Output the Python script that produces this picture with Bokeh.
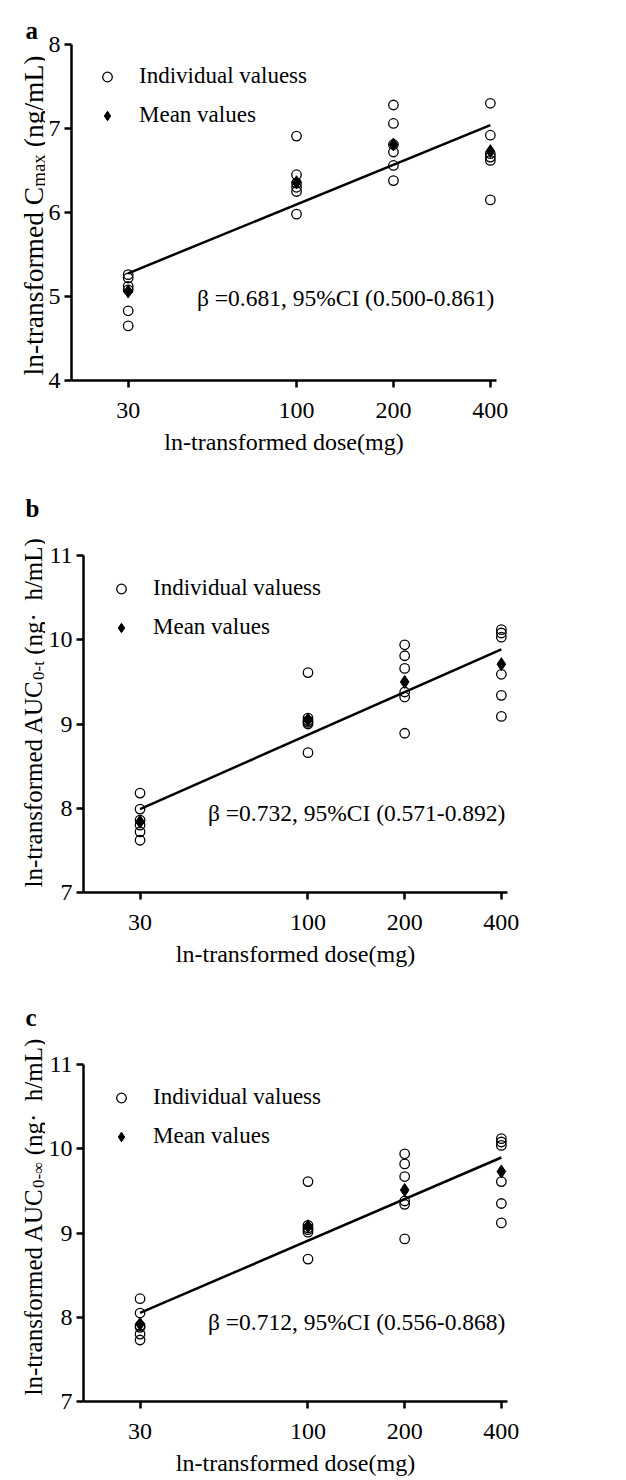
import math
from bokeh.plotting import figure
from bokeh.models import (Range1d, FixedTicker, NumeralTickFormatter, Label,
                          Legend, LegendItem)
from bokeh.layouts import column, row
from bokeh.embed import file_html
from bokeh.resources import INLINE

# ---------------- data ----------------
doses = [30, 100, 200, 400]

cmax_individual = [
    [5.26, 5.22, 5.12, 5.08, 4.83, 4.65],
    [6.91, 6.45, 6.35, 6.30, 6.25, 5.98],
    [7.28, 7.06, 6.81, 6.72, 6.56, 6.38],
    [7.30, 6.92, 6.70, 6.66, 6.62, 6.15],
]
cmax_mean = [5.06, 6.36, 6.81, 6.73]
cmax_beta = 0.681
cmax_ci = (0.500, 0.861)
cmax_intercept = 2.96

auct_individual = [
    [8.18, 7.99, 7.86, 7.80, 7.72, 7.62],
    [9.61, 9.07, 9.04, 9.02, 9.00, 8.66],
    [9.94, 9.81, 9.66, 9.38, 9.32, 8.89],
    [10.12, 10.08, 10.03, 9.59, 9.34, 9.09],
]
auct_mean = [7.84, 9.05, 9.50, 9.71]
auct_beta = 0.732
auct_ci = (0.571, 0.892)
auct_intercept = 5.50

aucinf_individual = [
    [8.22, 8.05, 7.90, 7.88, 7.80, 7.73],
    [9.61, 9.09, 9.06, 9.04, 9.01, 8.69],
    [9.94, 9.82, 9.67, 9.38, 9.34, 8.93],
    [10.12, 10.08, 10.04, 9.61, 9.35, 9.12],
]
aucinf_mean = [7.92, 9.08, 9.51, 9.73]
aucinf_beta = 0.712
aucinf_ci = (0.556, 0.868)
aucinf_intercept = 5.63

x_title = "ln-transformed dose(mg)"
legend_labels = ["Individual valuess", "Mean values"]

# ---------------- style / layout ----------------
FONT = "'Liberation Serif', 'Times New Roman', serif"
XLO, XHI = 20, 418
PPL = 140.5          # pixels per natural-log unit on the x axis
W_FIG = 620
STRIP_W = 45
ADV = {' ': 250, '\u00a0': 250, '(': 333, ')': 333, '-': 333, '/': 278,
       '0': 500, 'A': 722, 'C': 667, 'L': 611, 'U': 722, 'a': 444, 'd': 500,
       'e': 444, 'f': 333, 'g': 500, 'h': 500, 'l': 278, 'm': 778, 'n': 500,
       'o': 500, 'r': 333, 's': 389, 't': 278, 'x': 500, '\u00b7': 250,
       '\u221e': 713}


def text_w(s, size):
    return sum(ADV.get(c, 500) for c in s) * size / 1000.0


def make_strip(height, letter, letter_xy, ylabel, ylab_start, main_sz, sub_sz):
    """Narrow figure (frame = whole canvas) holding the panel letter and the
    rotated y title; data units equal canvas pixels, y measured from top."""
    s = figure(width=STRIP_W, height=height, x_range=Range1d(0, STRIP_W),
               y_range=Range1d(height, 0), output_backend="svg",
               toolbar_location=None, title=None, x_axis_location=None,
               y_axis_location=None, min_border=0, min_border_left=0,
               min_border_right=0, min_border_top=0, min_border_bottom=0)
    s.outline_line_color = None
    s.grid.visible = False
    s.background_fill_color = "white"
    s.border_fill_color = "white"

    s.add_layout(Label(x=letter_xy[0], y=letter_xy[1], text=letter,
                       text_align="left", text_baseline="alphabetic",
                       text_font=FONT, text_font_size="25px",
                       text_font_style="bold", text_color="black"))

    main, sub, tail = ylabel
    base_x = 33
    pos = ylab_start
    for txt, sz, shift in [(main, main_sz, 0.0), (sub, sub_sz, 4.5)]:
        s.add_layout(Label(x=base_x + shift, y=pos, text=txt,
                           angle=math.pi / 2, text_align="left",
                           text_baseline="alphabetic", text_font=FONT,
                           text_font_size=f"{sz}px", text_color="black"))
        pos -= text_w(txt, sz)
    pos -= text_w(" ", main_sz)
    s.add_layout(Label(x=base_x, y=pos, text=tail,
                       angle=math.pi / 2, text_align="left",
                       text_baseline="alphabetic", text_font=FONT,
                       text_font_size=f"{main_sz}px", text_color="black"))
    return s


def make_panel(letter, ind, means, beta, ci, icpt, ylo, yhi, ylabel,
               height, top, bottom, left, letter_xy, beta_y, ylab_start,
               legend_dx, legend_dy, main_sz, sub_sz):
    fh = height - top - bottom
    fw = int(round(PPL * math.log(XHI / XLO)))
    width = W_FIG - STRIP_W
    lb = left - STRIP_W
    right = width - lb - fw

    p = figure(width=width, height=height, x_axis_type="log",
               x_range=Range1d(XLO, XHI), y_range=Range1d(ylo, yhi),
               output_backend="svg", toolbar_location=None, title=None,
               min_border_left=lb, min_border_right=right,
               min_border_top=top, min_border_bottom=bottom)
    p.outline_line_color = None
    p.grid.visible = False
    p.background_fill_color = "white"
    p.border_fill_color = "white"

    for ax in (p.xaxis[0], p.yaxis[0]):
        ax.axis_line_color = "black"
        ax.axis_line_width = 2.5
        ax.major_tick_line_color = "black"
        ax.major_tick_line_width = 2.5
        ax.major_tick_out = 7
        ax.major_tick_in = 0
        ax.minor_tick_line_color = None
        ax.major_label_text_font = FONT
        ax.major_label_text_font_size = "24px"
        ax.major_label_text_color = "black"

    p.xaxis.ticker = FixedTicker(ticks=doses)
    p.xaxis.formatter = NumeralTickFormatter(format="0")
    p.xaxis.major_label_standoff = 15
    p.xaxis.axis_label = x_title
    p.xaxis.axis_label_text_font = FONT
    p.xaxis.axis_label_text_font_size = "24px"
    p.xaxis.axis_label_text_font_style = "normal"
    p.xaxis.axis_label_text_color = "black"
    p.xaxis.axis_label_standoff = 8

    p.yaxis.ticker = FixedTicker(ticks=list(range(int(ylo), int(yhi) + 1)))
    p.yaxis.major_label_standoff = 4

    # regression line
    lx = [doses[0], doses[-1]]
    ly = [icpt + beta * math.log(d) for d in lx]
    p.line(lx, ly, line_color="black", line_width=2.5)

    xs, ys = [], []
    for d, vals in zip(doses, ind):
        for v in vals:
            xs.append(d)
            ys.append(v)
    r_ind = p.scatter(xs, ys, marker="circle", size=9.5, fill_color=None,
                      line_color="black", line_width=1.3)
    r_mean = p.scatter(doses, means, marker="diamond", size=13,
                       fill_color="black", line_color="black")

    legend = Legend(items=[LegendItem(label=legend_labels[0], renderers=[r_ind]),
                           LegendItem(label=legend_labels[1], renderers=[r_mean])],
                    location=(legend_dx - 12, fh - (legend_dy - 13.5) - 66),
                    label_text_font=FONT, label_text_font_size="23px",
                    label_text_color="black",
                    border_line_color=None, background_fill_alpha=0,
                    padding=0, spacing=12, glyph_width=24, glyph_height=27,
                    label_height=27, label_standoff=20, margin=0)
    p.add_layout(legend)

    p.add_layout(Label(x=400, y=beta_y, x_offset=4,
                       text=f"\u03b2 ={beta:.3f}, 95%CI ({ci[0]:.3f}-{ci[1]:.3f})",
                       text_align="right", text_baseline="middle",
                       text_font=FONT, text_font_size="23.5px", text_color="black"))

    strip = make_strip(height, letter, letter_xy, ylabel, ylab_start,
                       main_sz, sub_sz)
    # wrapping each figure separately keeps the row from aligning their frames
    return row(column(strip), column(p), spacing=0)


pa = make_panel("a", cmax_individual, cmax_mean, cmax_beta, cmax_ci, cmax_intercept,
                4, 8, ("ln-transformed C", "max", "(ng/mL)"),
                height=490, top=44, bottom=110, left=69,
                letter_xy=(25, 30), beta_y=4.98, ylab_start=375,
                legend_dx=36, legend_dy=32, main_sz=27.5, sub_sz=19)
pb = make_panel("b", auct_individual, auct_mean, auct_beta, auct_ci, auct_intercept,
                7, 11, ("ln-transformed AUC", "0-t", "(ng\u00b7\u00a0 h/mL)"),
                height=500, top=65, bottom=98, left=80,
                letter_xy=(25, 18), beta_y=7.94, ylab_start=397,
                legend_dx=38, legend_dy=33, main_sz=25, sub_sz=17)
pc = make_panel("c", aucinf_individual, aucinf_mean, aucinf_beta, aucinf_ci, aucinf_intercept,
                7, 11, ("ln-transformed AUC", "0-\u221e", "(ng\u00b7\u00a0 h/mL)"),
                height=490, top=74, bottom=79, left=80,
                letter_xy=(25, 27), beta_y=7.94, ylab_start=405,
                legend_dx=38, legend_dy=33, main_sz=25, sub_sz=17)

layout = column(pa, pb, pc, spacing=0)
open("out.html", "w").write(file_html(layout, INLINE))
